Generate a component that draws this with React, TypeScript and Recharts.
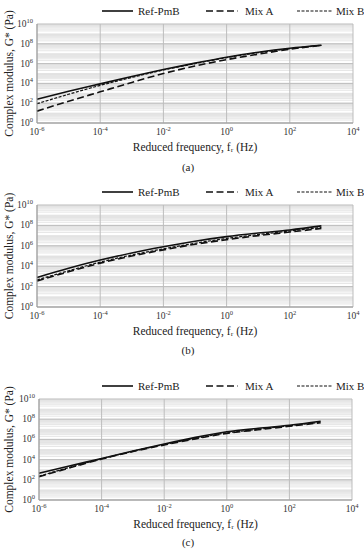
import { LineChart, Line, XAxis, YAxis, CartesianGrid, Label } from "recharts";

// reduced frequency exponents (log10 Hz)
const freqExp = [-6, -5, -4, -3, -2, -1, 0, 1, 2, 3];

// log10 of G* (Pa)
const refA = [2.4, 3.2, 3.95, 4.7, 5.4, 6.05, 6.65, 7.15, 7.55, 7.85];
const mixAA = [1.2, 2.2, 3.15, 4.1, 5.0, 5.75, 6.4, 6.95, 7.45, 7.85];
const mixBA = [1.95, 2.9, 3.8, 4.6, 5.35, 6.0, 6.6, 7.1, 7.5, 7.85];

const refB = [2.9, 3.8, 4.6, 5.3, 5.9, 6.45, 6.9, 7.25, 7.55, 7.95];
const mixAB = [2.55, 3.45, 4.3, 5.0, 5.6, 6.15, 6.6, 7.0, 7.35, 7.7];
const mixBB = [2.65, 3.55, 4.4, 5.1, 5.7, 6.25, 6.72, 7.1, 7.45, 7.8];

const refC = [2.65, 3.4, 4.1, 4.85, 5.55, 6.2, 6.75, 7.1, 7.4, 7.8];
const mixAC = [2.3, 3.2, 4.05, 4.8, 5.45, 6.05, 6.6, 6.95, 7.3, 7.65];
const mixBC = [2.35, 3.25, 4.08, 4.82, 5.5, 6.1, 6.65, 7.0, 7.35, 7.7];

const xTicks = [1e-6, 1e-4, 1e-2, 1, 1e2, 1e4];
const yTicks = [1, 1e2, 1e4, 1e6, 1e8, 1e10];
const decades = [0, 1, 2, 3, 4, 5, 6, 7, 8, 9];
const minorMult = [2, 3, 4, 5, 6, 7, 8, 9];
const yMinor = decades.flatMap((d) => minorMult.map((m) => m * 10 ** d)).concat(decades.map((d) => 10 ** d));

const FONT = "'Liberation Serif', 'DejaVu Serif', serif";

const build = (ref: number[], a: number[], b: number[]) =>
  freqExp.map((e, i) => ({ f: 10 ** e, ref: 10 ** ref[i], mixA: 10 ** a[i], mixB: 10 ** b[i] }));

const PowTick = ({ x, y, payload, axis }: any) => {
  const e = Math.round(Math.log10(payload.value));
  if (axis === "x") {
    return (
      <text x={x} y={y + 10} textAnchor="middle" fontSize={9.5} fontFamily={FONT} fill="#333">
        <tspan>10</tspan>
        <tspan dy={-4} fontSize={6.5}>{e}</tspan>
      </text>
    );
  }
  return (
    <text x={x - 2} y={y + 3} textAnchor="end" fontSize={9.5} fontFamily={FONT} fill="#333">
      <tspan>10</tspan>
      <tspan dy={-4} fontSize={6.5}>{e}</tspan>
    </text>
  );
};

const YTitle = ({ viewBox }: any) => {
  const cx = 9;
  const cy = viewBox.y + viewBox.height / 2;
  return (
    <text x={cx} y={cy} transform={`rotate(-90 ${cx} ${cy})`} textAnchor="middle" dominantBaseline="central" fontSize={11.5} fontFamily={FONT} fill="#222">
      Complex modulus, G* (Pa)
    </text>
  );
};

const LegendRow = () => (
  <svg width={364} height={14} style={{ position: "absolute", left: 0, top: 4 }}>
    <line x1={102} x2={133} y1={7} y2={7} stroke="#111" strokeWidth={1.6} />
    <text x={138} y={11} fontSize={11} fontFamily={FONT} fill="#222">Ref-PmB</text>
    <line x1={206} x2={238} y1={7} y2={7} stroke="#111" strokeWidth={1.6} strokeDasharray="7 3.5" />
    <text x={245} y={11} fontSize={11} fontFamily={FONT} fill="#222">Mix A</text>
    <line x1={297} x2={332} y1={7} y2={7} stroke="#111" strokeWidth={1.2} strokeDasharray="3 1.5" />
    <text x={336} y={11} fontSize={11} fontFamily={FONT} fill="#222">Mix B</text>
  </svg>
);

const Panel = ({ top, plotH, left, right, data, caption, letter }: any) => {
  const height = 24 + plotH + 30 + 7;
  return (
    <div style={{ position: "absolute", left: 0, top, width: 364, height: 180 }}>
      <LegendRow />
      <LineChart width={364} height={height} data={data} margin={{ top: 24, right, bottom: 7, left: left - 30 }}>
        <CartesianGrid horizontalValues={yMinor} vertical={false} stroke="#e0e0e0" strokeWidth={0.8} />
        <CartesianGrid stroke="#bdbdbd" strokeWidth={1} />
        <XAxis
          dataKey="f"
          type="number"
          scale="log"
          domain={[1e-6, 1e4]}
          ticks={xTicks}
          interval={0}
          tick={<PowTick axis="x" />}
          tickLine={false}
          tickSize={0}
          axisLine={{ stroke: "#9a9a9a" }}
          height={30}
        >
          <Label value="Reduced frequency, fᵣ (Hz)" position="insideBottom" offset={2} style={{ fontSize: 11.5, fontFamily: FONT, fill: "#222" }} />
        </XAxis>
        <YAxis
          type="number"
          scale="log"
          domain={[1, 1e10]}
          ticks={yTicks}
          interval={0}
          tick={<PowTick axis="y" />}
          tickLine={false}
          tickSize={0}
          axisLine={{ stroke: "#9a9a9a" }}
          width={30}
        >
          <Label content={<YTitle />} />
        </YAxis>
        <Line dataKey="ref" type="monotone" stroke="#111" strokeWidth={1.6} dot={false} isAnimationActive={false} />
        <Line dataKey="mixA" type="monotone" stroke="#111" strokeWidth={1.6} strokeDasharray="7 3.5" dot={false} isAnimationActive={false} />
        <Line dataKey="mixB" type="monotone" stroke="#111" strokeWidth={1.2} strokeDasharray="3 1.5" dot={false} isAnimationActive={false} />
      </LineChart>
      <div style={{ position: "absolute", left: 0, width: 376, top: caption - 7, textAlign: "center", fontSize: 11, fontFamily: FONT, color: "#222" }}>
        {`(${letter})`}
      </div>
    </div>
  );
};

export default function App() {
  return (
    <div style={{ position: "absolute", left: 0, top: 0, width: 364, height: 550, background: "#fff" }}>
      <Panel top={0} plotH={99} left={37} right={11} data={build(refA, mixAA, mixBA)} caption={168} letter="a" />
      <Panel top={181} plotH={102} left={37} right={11} data={build(refB, mixAB, mixBB)} caption={170} letter="b" />
      <Panel top={375} plotH={101} left={39} right={12} data={build(refC, mixAC, mixBC)} caption={168} letter="c" />
    </div>
  );
}
